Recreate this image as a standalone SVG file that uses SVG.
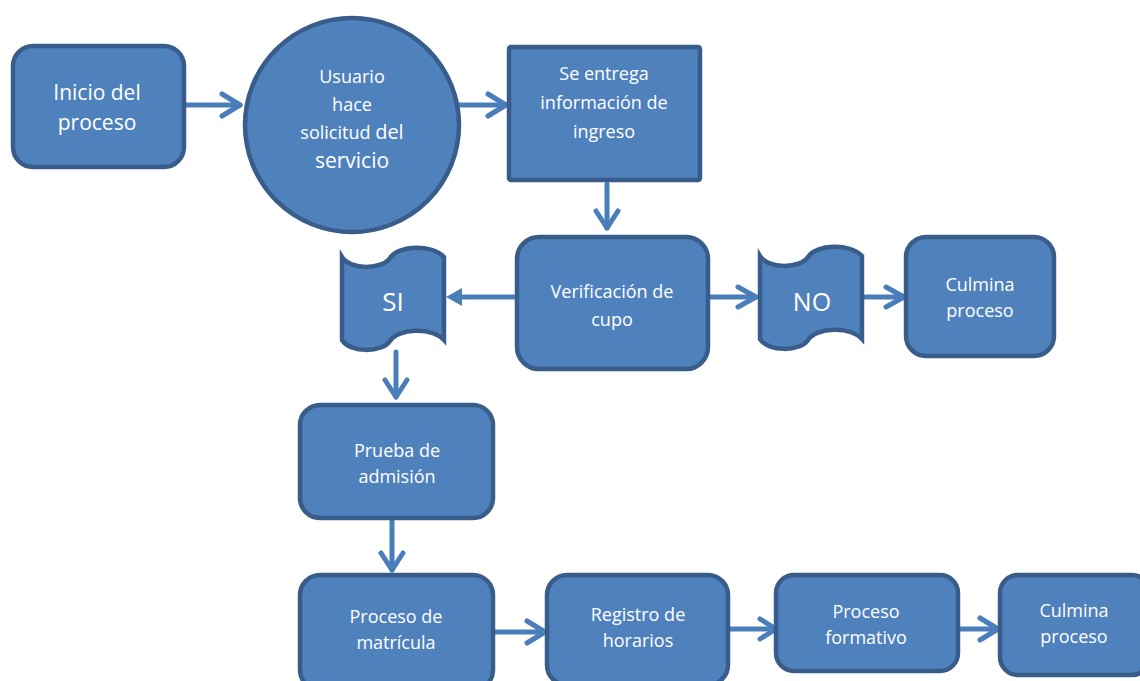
<svg xmlns="http://www.w3.org/2000/svg" width="1140" height="681" viewBox="0 0 1140 681">
<style>
.n{fill:#4F81BD;stroke:#385D8A;stroke-width:4.5}
.t{fill:#fff;font-family:"Open Sans",Lato,sans-serif;font-size:18px;text-anchor:middle}
.c line,.c path{stroke:#4A7EBB;stroke-width:5;stroke-linecap:round;stroke-linejoin:round;fill:none}
.c polygon{fill:#4A7EBB}
</style>
<rect width="1140" height="681" fill="#fff"/>
<g class="c" id="connectors">
<line x1="184" y1="105" x2="240" y2="105"/><path d="M222,94 L240,105 L222,116"/>
<line x1="458" y1="105" x2="506" y2="105"/><path d="M488,94 L506,105 L488,116"/>
<line x1="607" y1="184" x2="607" y2="228"/><path d="M596,211 L607,228 L618,211"/>
<line x1="515" y1="297" x2="458" y2="297"/><polygon points="446,297 462,288 462,306"/>
<line x1="708" y1="297" x2="756" y2="297"/><path d="M738,287 L756,297 L738,307"/>
<line x1="862" y1="297" x2="904" y2="297"/><path d="M886,287 L904,297 L886,307"/>
<line x1="396" y1="352" x2="396" y2="397"/><path d="M385,380 L396,397 L407,380"/>
<line x1="392" y1="520" x2="392" y2="570"/><path d="M381,553 L392,570 L403,553"/>
<line x1="493" y1="632" x2="545" y2="632"/><path d="M527,621 L545,632 L527,643"/>
<line x1="728" y1="629" x2="775" y2="629"/><path d="M760,619 L776,629 L760,639"/>
<line x1="940" y1="629" x2="998" y2="629"/><path d="M980,618 L998,629 L980,640"/>
</g>
<g id="inicio"><rect class="n" x="13" y="46" width="171" height="121" rx="20"/><text class="t" style="font-size:21px" x="97" y="100">Inicio del</text><text class="t" style="font-size:21px" x="97" y="130">proceso</text></g>
<g id="usuario"><circle class="n" cx="352" cy="125" r="107"/><text class="t" x="352" y="83">Usuario</text><text class="t" x="352" y="111">hace</text><text class="t" x="352" y="139">solicitud <tspan style="font-size:20px">del</tspan></text><text class="t" style="font-size:21px" x="352" y="168">servicio</text></g>
<g id="entrega"><rect class="n" x="509" y="47" width="191" height="133" rx="2"/><text class="t" x="604" y="80">Se entrega</text><text class="t" x="604" y="109">información de</text><text class="t" x="604" y="138">ingreso</text></g>
<g id="verificacion"><rect class="n" x="517" y="237" width="191" height="132" rx="22"/><text class="t" x="612" y="298">Verificación de</text><text class="t" x="612" y="326">cupo</text></g>
<g id="si"><path class="n" d="M342,257 C350,270 382,270 390,258 C398,245 432,244 444,257 L444,340 C432,327 398,328 390,341 C382,353 350,353 342,340 Z"/><text class="t" style="font-size:26px" x="393" y="311">SI</text></g>
<g id="no"><path class="n" d="M760,256 C768,269 800,269 808,257 C816,244 850,243 862,256 L862,339 C850,326 816,327 808,340 C800,352 768,352 760,339 Z"/><text class="t" style="font-size:25px" x="812" y="311">NO</text></g>
<g id="culmina1"><rect class="n" x="906" y="237" width="148" height="119" rx="20"/><text class="t" x="980" y="291">Culmina</text><text class="t" x="980" y="317">proceso</text></g>
<g id="prueba"><rect class="n" x="300" y="405" width="193" height="113" rx="20"/><text class="t" x="397" y="457">Prueba de</text><text class="t" x="397" y="483">admisión</text></g>
<g id="matricula"><rect class="n" x="300" y="575" width="193" height="115" rx="20"/><text class="t" x="396" y="623">Proceso de</text><text class="t" x="396" y="649">matrícula</text></g>
<g id="registro"><rect class="n" x="547" y="575" width="181" height="110" rx="20"/><text class="t" x="638" y="621">Registro de</text><text class="t" x="638" y="647">horarios</text></g>
<g id="formativo"><rect class="n" x="776" y="575" width="182" height="96" rx="18"/><text class="t" x="866" y="618">Proceso</text><text class="t" x="866" y="644">formativo</text></g>
<g id="culmina2"><rect class="n" x="1000" y="575" width="150" height="100" rx="18"/><text class="t" x="1074" y="617">Culmina</text><text class="t" x="1074" y="643">proceso</text></g>
</svg>
